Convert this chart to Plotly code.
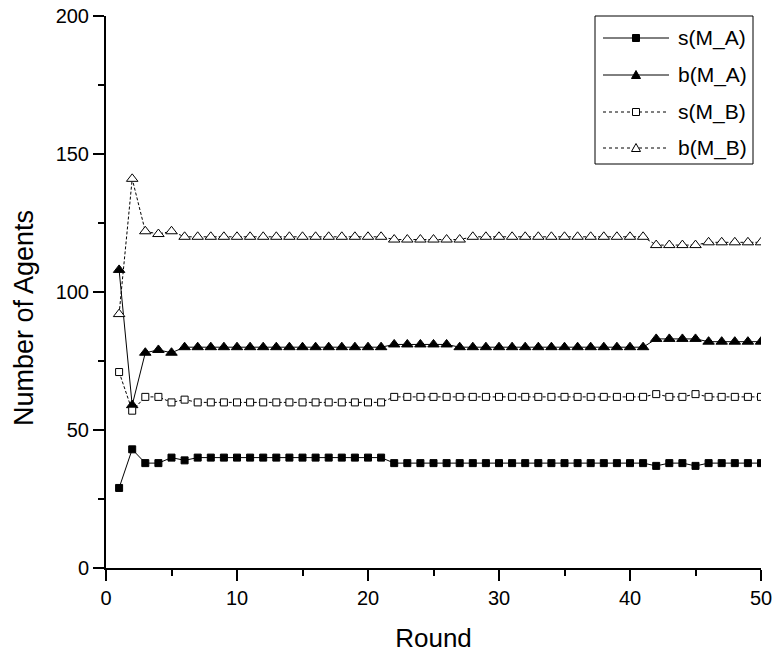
import plotly.graph_objects as go

rounds = list(range(1, 51))

s_MA = [29, 43, 38, 38, 40, 39] + [40] * 15 + [38] * 20 + [37, 38, 38, 37] + [38] * 5
b_MA = [108, 59, 78, 79, 78] + [80] * 16 + [81] * 5 + [80] * 15 + [83] * 4 + [82] * 5
s_MB = [71, 57, 62, 62, 60, 61] + [60] * 15 + [62] * 20 + [63, 62, 62, 63] + [62] * 5
b_MB = [92, 141, 122, 121, 122] + [120] * 16 + [119] * 6 + [120] * 14 + [117] * 4 + [118] * 5

series_names = ["s(M_A)", "b(M_A)", "s(M_B)", "b(M_B)"]
x_ticks = [0, 10, 20, 30, 40, 50]
y_ticks = [0, 50, 100, 150, 200]
x_title = "Round"
y_title = "Number of Agents"

FONT = "Liberation Sans, Arial, sans-serif"

# plot area in pixels
L, R, T, B = 106, 761, 16, 568
W, H = 773, 656


def px(p):
    return (p - L) / (R - L)


def py(p):
    return (B - p) / (B - T)


styles = [
    dict(symbol="square", size=7, fill="black", dash="solid", tri=False),
    dict(symbol="triangle-up", size=10, fill="black", dash="solid", tri=True),
    dict(symbol="square", size=7, fill="white", dash="3px,2px", tri=False),
    dict(symbol="triangle-up", size=10, fill="white", dash="3px,2px", tri=True),
]

fig = go.Figure()
for i, (name, ys) in enumerate(zip(series_names, [s_MA, b_MA, s_MB, b_MB])):
    st = styles[i]
    fig.add_trace(go.Scatter(
        x=rounds, y=ys, name=name, mode="lines+markers", showlegend=False,
        line=dict(color="black", width=1, dash=st["dash"]),
        marker=dict(symbol=st["symbol"], size=st["size"], color=st["fill"],
                    line=dict(color="black", width=1)),
    ))

# custom legend (box, sample lines, markers, labels)
shapes = [dict(type="rect", xref="paper", yref="paper",
               x0=px(595), x1=px(753), y0=py(16), y1=py(164),
               line=dict(color="black", width=1), fillcolor="white", layer="above")]
annotations = []
entry_y = [38, 75, 112, 148]
for i, name in enumerate(series_names):
    st = styles[i]
    yy = py(entry_y[i])
    shapes.append(dict(type="line", xref="paper", yref="paper",
                       x0=px(603), x1=px(669), y0=yy, y1=yy,
                       line=dict(color="black", width=1,
                                 dash="solid" if st["dash"] == "solid" else "3px,3px")))
    if st["tri"]:
        shapes.append(dict(type="path", xref="paper", yref="paper",
                           xsizemode="pixel", ysizemode="pixel",
                           xanchor=px(636), yanchor=yy,
                           path="M-4.5,-3.5 L4.5,-3.5 L0,4.5 Z",
                           line=dict(color="black", width=1), fillcolor=st["fill"]))
    else:
        shapes.append(dict(type="rect", xref="paper", yref="paper",
                           xsizemode="pixel", ysizemode="pixel",
                           xanchor=px(636), yanchor=yy,
                           x0=-3.5, x1=3.5, y0=-3.5, y1=3.5,
                           line=dict(color="black", width=1), fillcolor=st["fill"]))
    annotations.append(dict(text=name, xref="paper", yref="paper",
                            x=px(676), y=yy, xanchor="left", yanchor="middle",
                            showarrow=False,
                            font=dict(family=FONT, size=21, color="black")))

# y-axis title placed as rotated text
annotations.append(dict(text=y_title, xref="paper", yref="paper",
                        x=px(24), y=py(318), xanchor="center", yanchor="middle",
                        textangle=-90, showarrow=False,
                        font=dict(family=FONT, size=27, color="black")))

axis_common = dict(
    showline=True, linecolor="black", linewidth=2,
    ticks="outside", ticklen=11, tickwidth=2, tickcolor="black",
    showgrid=False, zeroline=False, mirror=False, automargin=False,
    tickfont=dict(family=FONT, size=20, color="black"),
)

fig.update_xaxes(
    range=[0, 50], tickvals=x_ticks,
    minor=dict(ticks="outside", dtick=5, tick0=0, ticklen=6, tickwidth=2, tickcolor="black", showgrid=False),
    title=dict(text=x_title, font=dict(family=FONT, size=26, color="black"), standoff=21),
    **axis_common,
)
fig.update_yaxes(
    range=[0, 200], tickvals=y_ticks,
    minor=dict(ticks="outside", dtick=25, tick0=0, ticklen=6, tickwidth=2, tickcolor="black", showgrid=False),
    **axis_common,
)

fig.update_layout(
    width=W, height=H,
    margin=dict(l=L, r=W - R, t=T, b=H - B, autoexpand=False),
    plot_bgcolor="white", paper_bgcolor="white",
    font=dict(family=FONT, size=20, color="black"),
    showlegend=False,
    shapes=shapes,
    annotations=annotations,
)

fig.write_html("out.html")
